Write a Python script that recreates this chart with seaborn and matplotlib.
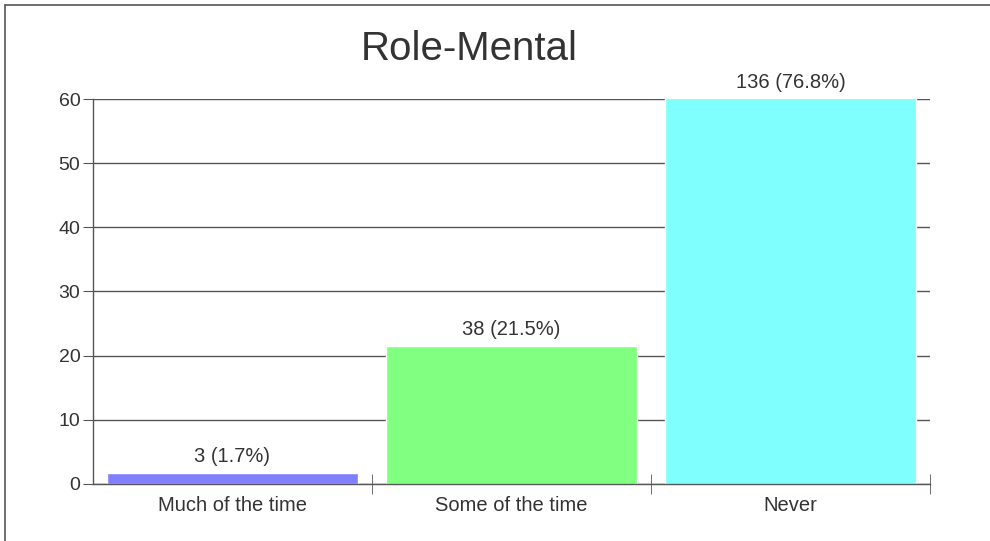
import numpy as np
import pandas as pd
import matplotlib.pyplot as plt
import seaborn as sns
from matplotlib.lines import Line2D

categories = ['Much of the time', 'Some of the time', 'Never']
counts = [3, 38, 136]
percents = [1.7, 21.5, 76.8]
bar_colors = ['#8080ff', '#80ff80', '#80ffff']
y_ticks = [0, 10, 20, 30, 40, 50, 60]

sns.set_style('white')
plt.rcParams['font.family'] = ['Liberation Sans', 'DejaVu Sans']

df = pd.DataFrame({'category': categories, 'pct': percents})

fig = plt.figure(figsize=(9.9, 5.41), dpi=100)
ax = fig.add_axes([0.0939, 0.1054, 0.8455, 0.7116])

# gridlines first so the bars cover them
for t in y_ticks:
    ax.axhline(t, color='#555555', lw=1, zorder=0)

sns.barplot(data=df, x='category', y='pct', hue='category', palette=bar_colors,
            width=0.9, saturation=1, legend=False, ax=ax, zorder=2)

ax.set_xlim(-0.5, 2.5)
ax.set_ylim(0, 60)
ax.set_yticks(y_ticks)
ax.set_xlabel('')
ax.set_ylabel('')

# labels above bars (clipped bar gets label just above the axes)
for i, (c, p) in enumerate(zip(counts, percents)):
    ax.text(i, min(p, 60) + 1.1, f'{c} ({p}%)', ha='center', va='bottom',
            fontsize=14.5, color='#333333', clip_on=False)

# title sits a bit left of the axes centre in the original
fig.text(469 / 990, 1 - 49.5 / 541, 'Role-Mental', ha='center', va='center',
         fontsize=29, color='#333333')

for s in ['top', 'right']:
    ax.spines[s].set_visible(False)
for s in ['left', 'bottom']:
    ax.spines[s].set_color('#555555')
    ax.spines[s].set_linewidth(1)

ax.tick_params(axis='y', length=7, color='#555555', labelsize=14, labelcolor='#333333', pad=2, left=True)
ax.tick_params(axis='x', which='major', length=0, labelsize=14.5, labelcolor='#333333', pad=9)
ax.set_xticks([0.5, 1.5, 2.5], minor=True)
ax.tick_params(axis='x', which='minor', length=14, direction='inout', color='#555555', bottom=True)

# outer frame lines (left and top)
fig.add_artist(Line2D([5 / 990, 5 / 990], [0, 1 - 5 / 541], color='#555555', lw=1.2))
fig.add_artist(Line2D([5 / 990, 1], [1 - 5 / 541, 1 - 5 / 541], color='#555555', lw=1.2))

fig.savefig('out.png', dpi=100, facecolor='white')
